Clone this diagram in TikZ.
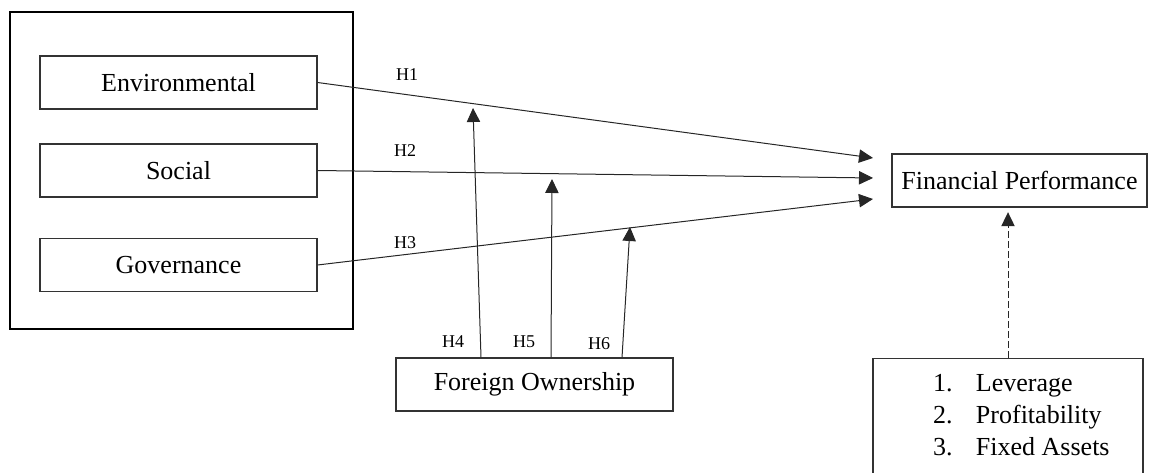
\documentclass[tikz,border=0pt]{standalone}
\usepackage{fontspec}
\setmainfont{Liberation Serif}
\usetikzlibrary{positioning, arrows.meta, calc}

\begin{document}
\begin{tikzpicture}[
    x = 0.75pt, y = -0.75pt,
    every node/.style = {font = \fontsize{19.5}{24}\selectfont},
    box/.style    = {draw = black!80, line width = 0.8pt, minimum height = 39.75pt, inner sep = 0pt},
    outer/.style  = {draw, line width = 1.8pt, minimum width = 257.25pt, minimum height = 237.75pt},
    hlabel/.style = {font = \fontsize{13.5}{15}\selectfont, inner sep = 0pt},
    arr/.style    = {-{Triangle[length=10.5pt, width=10pt]}, line width = 0.75pt, black!85},
    darr/.style   = {arr, dash pattern = on 5pt off 2.5pt},
]
\useasboundingbox (0,0) rectangle (1163,473);
\clip (0,0) rectangle (1163,473);

% ---------- ESG block ----------
\node[outer] (esg) at (181.5, 170.5) {};
\node[box, minimum width = 207.75pt] (env) at (178.5,  82.5) {Environmental};
\node[box, minimum width = 207.75pt] (soc) at (178.5, 170.5) {Social};
\node[box, minimum width = 207.75pt] (gov) at (178.5, 265.0) {Governance};

% ---------- outcome, moderator, controls ----------
\node[box, minimum width = 191.25pt] (fp) at (1019.5, 180.5) {Financial Performance};
\node[box, minimum width = 207.75pt] (fo) at (534.5, 384.5) {Foreign Ownership};
\node[box, minimum width = 202.5pt, anchor = north] (ctrl) at (1008, 358)
    {\begin{minipage}[t][100pt][t]{202.5pt}\vspace*{8pt}\hspace*{45pt}%
     \begin{tabular}{@{}p{32.25pt}@{}l@{}}
     1. & Leverage\\
     2. & Profitability\\
     3. & Fixed Assets
     \end{tabular}\end{minipage}};

% ---------- arrow ends ----------
\coordinate (e1) at (873, 158);
\coordinate (e2) at (873, 178);
\coordinate (e3) at (873, 199);
\coordinate (m4) at (473, 108);
\coordinate (m5) at (552, 179);
\coordinate (m6) at (630, 227);

% ---------- direct effects ----------
\draw[arr] (env.east) -- (e1);
\draw[arr] (soc.east) -- (e2);
\draw[arr] (gov.east) -- (e3);

% ---------- moderating effects ----------
\draw[arr] ($(fo.north)+(-53.5,0)$) -- (m4);
\draw[arr] ($(fo.north)+(16.5,0)$)  -- (m5);
\draw[arr] ($(fo.north)+(87.5,0)$)  -- (m6);

% ---------- controls ----------
\draw[darr, shorten >= 3.5pt] (ctrl.north) -- (ctrl.north |- fp.south);

% ---------- hypothesis labels ----------
\node[hlabel] (h1) at (407,  75) {H1};
\node[hlabel] (h2) at (405, 151) {H2};
\node[hlabel] (h3) at (405, 243) {H3};
\node[hlabel] (h4) at (453, 342) {H4};
\node[hlabel] (h5) at (524, 342) {H5};
\node[hlabel] (h6) at (599, 344) {H6};

\end{tikzpicture}
\end{document}
